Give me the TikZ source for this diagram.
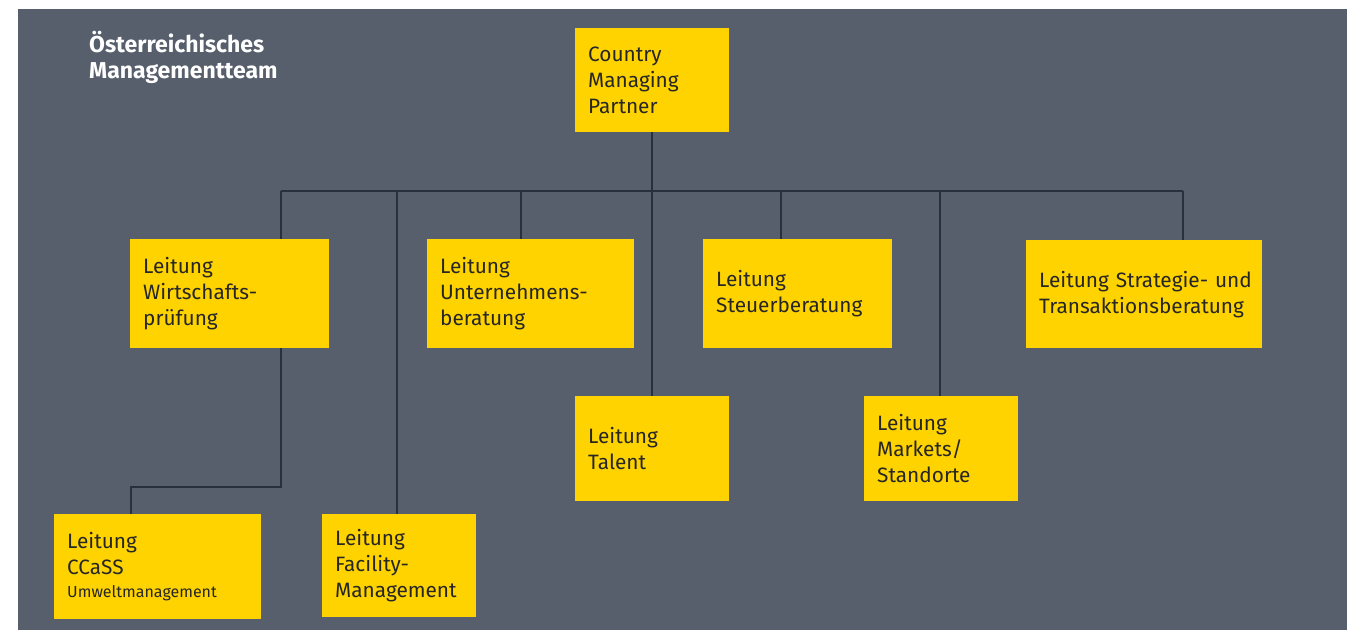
\documentclass[tikz,border=0pt]{standalone}
\usepackage{fontspec}
\setmainfont{Fira Sans}
\definecolor{grau}{HTML}{565F6B}
\definecolor{gelb}{HTML}{FFD300}
\definecolor{linie}{HTML}{27303B}
\begin{document}
\begin{tikzpicture}[x=1pt,y=-1pt]
    \tikzstyle{box}=[fill=gelb, anchor=north west, align=left, inner xsep=13pt, inner ysep=0pt, text=black!85, font=\fontsize{20.8}{26}\selectfont]
    \tikzstyle{verb}=[draw=linie, line width=1.5pt]

    \useasboundingbox (0,0) rectangle (1347,630);
    \fill[grau] (18,9) rectangle (1347,630);

    \node[anchor=north west, inner sep=0pt, align=left, text=white, font=\fontsize{23}{26}\bfseries\selectfont] (titel) at (89,31) {Österreichisches\\Managementteam};

    \node[box, text width=128pt, minimum height=104pt] (cmp) at (575,28) {Country\\Managing\\Partner};

    \node[box, text width=173pt, minimum height=109pt] (wp) at (130,239) {Leitung\\Wirtschafts-\\prüfung};
    \node[box, text width=181pt, minimum height=109pt] (ub) at (427,239) {Leitung\\Unternehmens-\\beratung};
    \node[box, text width=163pt, minimum height=109pt] (sb) at (703,239) {Leitung\\Steuerberatung};
    \node[box, text width=210pt, minimum height=108pt] (st) at (1026,240) {\mbox{Leitung Strategie- und}\\Transaktionsberatung};

    \node[box, text width=128pt, minimum height=105pt] (ta) at (575,396) {Leitung\\Talent};
    \node[box, text width=128pt, minimum height=105pt] (ms) at (864,396) {Leitung\\Markets/\\Standorte};

    \node[box, text width=181pt, minimum height=105pt] (cc) at (54,514) {Leitung\\CCaSS\\[-3pt]{\fontsize{16}{26}\selectfont Umweltmanagement}};
    \node[box, text width=128pt, minimum height=103pt] (fm) at (322,514) {Leitung\\Facility-\\Management};

    \coordinate (links) at (281,191);
    \coordinate (rechts) at (1183,191);
    \coordinate (knick) at (131,487);

    \draw[verb] (links) -- (rechts);
    \draw[verb] (cmp) -- (ta);

    \foreach \k/\z in {281/wp, 397/fm, 521/ub, 781/sb, 940/ms, 1183/st} {
        \draw[verb] (\k,191) -- (\z.north -| \k,0);
    }

    \draw[verb] (wp.south -| links) |- (knick) -- (cc.north -| knick);

\end{tikzpicture}
\end{document}
